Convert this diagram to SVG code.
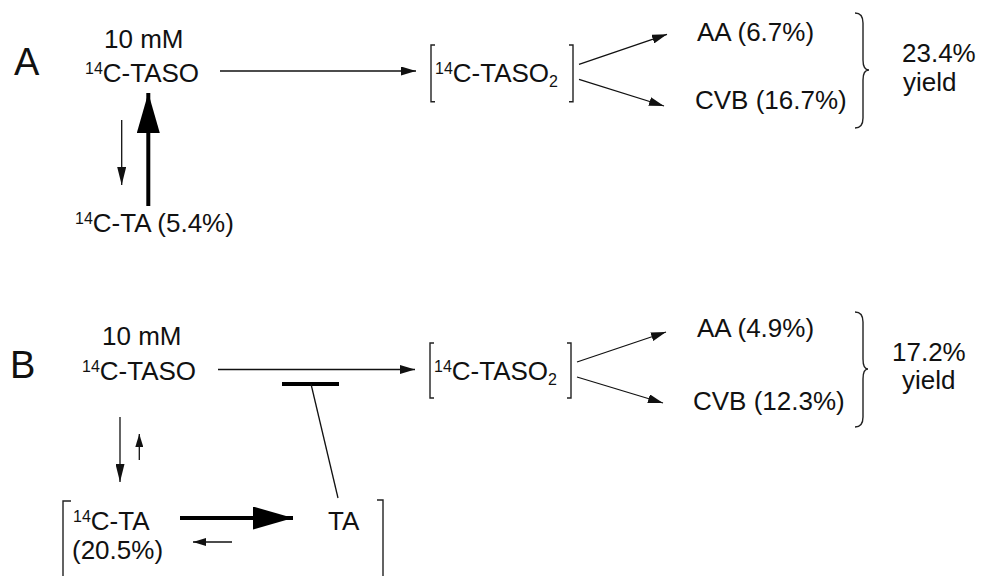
<svg xmlns="http://www.w3.org/2000/svg" width="981" height="576" viewBox="0 0 981 576">
<style>
  text { font-family: "Liberation Sans", Arial, sans-serif; font-size: 26px; fill: #111; }
  .big { font-size: 38px; }
  .sup { font-size: 16px; }
  .ln { stroke: #111; stroke-width: 1.3; fill: none; }
  .thk { stroke: #000; stroke-width: 4; fill: none; }
  .br { stroke: #222; stroke-width: 1.4; fill: none; }
</style>
<defs>
  <marker id="arr" markerUnits="userSpaceOnUse" markerWidth="15" markerHeight="9" refX="15" refY="4.5" orient="auto">
    <path d="M0,0 L15,4.5 L0,9 z" fill="#111"/>
  </marker>
  <marker id="arrn" markerUnits="userSpaceOnUse" markerWidth="18" markerHeight="9" refX="18" refY="4.5" orient="auto">
    <path d="M0,0 L18,4.5 L0,9 z" fill="#111"/>
  </marker>
  <marker id="arrs" markerUnits="userSpaceOnUse" markerWidth="13" markerHeight="8" refX="13" refY="4" orient="auto">
    <path d="M0,0 L13,4 L0,8 z" fill="#111"/>
  </marker>
  <marker id="arrb" markerUnits="userSpaceOnUse" markerWidth="40" markerHeight="23" refX="40" refY="11.5" orient="auto">
    <path d="M0,0 L40,11.5 L0,23 z" fill="#000"/>
  </marker>
</defs>

<!-- Panel A -->
<text id="labelA" class="big" x="14" y="75">A</text>
<g id="A_taso">
  <text x="104" y="48">10 mM</text>
  <text x="85" y="82"><tspan class="sup" dy="-8.5">14</tspan><tspan dy="8.5">C-TASO</tspan></text>
</g>
<g id="A_taso2">
  <path class="br" d="M435,45 H431 V101.7 H435"/>
  <path class="br" d="M569,45 H573 V101.7 H569"/>
  <text x="435" y="82"><tspan class="sup" dy="-8.5">14</tspan><tspan dy="8.5">C-TASO</tspan><tspan class="sup" dy="5">2</tspan></text>
</g>
<g id="A_aa"><text x="697" y="41">AA (6.7%)</text></g>
<g id="A_cvb"><text x="695" y="109">CVB (16.7%)</text></g>
<g id="A_yield">
  <path class="br" d="M855,13 Q863,13 863,23 V60 Q863,70 869,70 Q863,70 863,80 V118 Q863,128 855,128"/>
  <text x="902" y="62">23.4%</text>
  <text x="903" y="91">yield</text>
</g>
<g id="A_ta">
  <text x="75" y="232"><tspan class="sup" dy="-8.5">14</tspan><tspan dy="8.5">C-TA (5.4%)</tspan></text>
</g>

<!-- Panel B -->
<text id="labelB" class="big" x="10" y="378">B</text>
<g id="B_taso">
  <text x="102" y="345">10 mM</text>
  <text x="82" y="380"><tspan class="sup" dy="-8.5">14</tspan><tspan dy="8.5">C-TASO</tspan></text>
</g>
<g id="B_taso2">
  <path class="br" d="M434,343 H430 V398 H434"/>
  <path class="br" d="M567,343 H571 V398 H567"/>
  <text x="434" y="380"><tspan class="sup" dy="-8.5">14</tspan><tspan dy="8.5">C-TASO</tspan><tspan class="sup" dy="5">2</tspan></text>
</g>
<g id="B_aa"><text x="697" y="337">AA (4.9%)</text></g>
<g id="B_cvb"><text x="693" y="410">CVB (12.3%)</text></g>
<g id="B_yield">
  <path class="br" d="M855,312 Q863,312 863,322 V359 Q863,369 868,369 Q863,369 863,379 V417 Q863,427 855,427"/>
  <text x="892" y="361">17.2%</text>
  <text x="902" y="389">yield</text>
</g>
<g id="B_pool">
  <path class="br" d="M71,501 H63 V577"/>
  <path class="br" d="M377,500 H383 V577"/>
  <text x="73" y="530"><tspan class="sup" dy="-8.5">14</tspan><tspan dy="8.5">C-TA</tspan></text>
  <text x="72" y="559">(20.5%)</text>
</g>
<g id="B_ta"><text x="328" y="530">TA</text></g>

<!-- Connectors -->
<g id="connectors">
  <line class="ln" x1="220" y1="71" x2="416" y2="71" marker-end="url(#arr)"/>
  <line class="ln" x1="579" y1="64.3" x2="667" y2="34.3" marker-end="url(#arr)"/>
  <line class="ln" x1="579" y1="79.3" x2="664" y2="106" marker-end="url(#arr)"/>
  <line class="ln" x1="121.7" y1="120" x2="121.7" y2="185" marker-end="url(#arrn)"/>
  <line class="thk" x1="148.3" y1="206" x2="148.3" y2="93" marker-end="url(#arrb)"/>

  <line class="ln" x1="218" y1="369.5" x2="415" y2="369.5" marker-end="url(#arr)"/>
  <line class="ln" x1="577" y1="362" x2="666" y2="332" marker-end="url(#arr)"/>
  <line class="ln" x1="577" y1="377" x2="663" y2="403" marker-end="url(#arr)"/>
  <line class="ln" x1="120" y1="417" x2="120" y2="482" marker-end="url(#arrn)"/>
  <line class="ln" x1="139.3" y1="460" x2="139.3" y2="434" marker-end="url(#arrs)"/>
  <line class="thk" x1="180" y1="518" x2="293" y2="518" marker-end="url(#arrb)"/>
  <line class="ln" x1="232" y1="542" x2="193" y2="542" marker-end="url(#arrs)"/>
  <line x1="282" y1="384" x2="339" y2="384" stroke="#000" stroke-width="4"/>
  <line class="ln" x1="311" y1="384" x2="338" y2="498"/>
</g>
</svg>
